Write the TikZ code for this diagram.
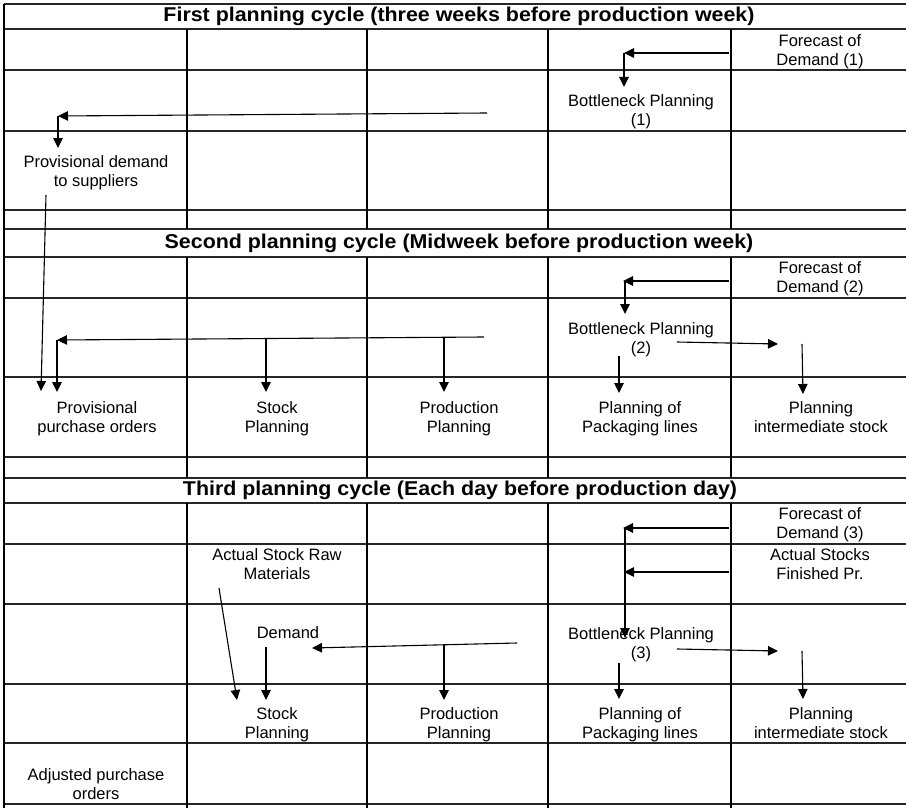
\documentclass[tikz,border=0pt]{standalone}
\usepackage{fontspec}
\usepackage{graphicx}
\setmainfont{Liberation Sans}
\usetikzlibrary{arrows.meta}

% two centred lines of equal height, so that rows of labels line up
\newcommand{\twolines}[2]{\strut#1\\\strut#2}
\newcommand{\widetitle}[1]{\scalebox{1.07}[1]{#1}}

\begin{document}
\begin{tikzpicture}[x=1pt,y=-1pt,
  hline/.style={line width=1.7pt,black!85},
  vline/.style={line width=1.1pt,black},
  label/.style={align=center,inner sep=0pt,yshift=-2pt,font=\fontsize{16.5}{19}\selectfont},
  cycletitle/.style={inner sep=0pt,font=\fontsize{20}{22}\selectfont\bfseries},
  flow/.style={line width=1.1pt,-{Triangle[length=10pt,width=9.5pt]}}]
\useasboundingbox (0,0) rectangle (906,808);

% table rules
\foreach \y in {4,29,70,131,210,229,257,298,377,457,478,503,544,604,684,743,804}
  \draw[hline] (4,\y) -- (906,\y);
\draw[vline] (4,4) -- (4,808);
\foreach \x in {187,367,548,731}{
  \draw[vline] (\x,29) -- (\x,229);
  \draw[vline] (\x,257) -- (\x,478);
  \draw[vline] (\x,503) -- (\x,808);
}

% cycle titles
\node[cycletitle] (c1) at (459,16.5) {\widetitle{First planning cycle (three weeks before production week)}};
\node[cycletitle] (c2) at (459,243) {\widetitle{Second planning cycle (Midweek before production week)}};
\node[cycletitle] (c3) at (460,490.5) {\widetitle{Third planning cycle (Each day before production day)}};

% first cycle
\node[label] (fc1) at (820,50) {\twolines{Forecast of}{Demand (1)}};
\node[label] (bn1) at (641,110) {\twolines{Bottleneck Planning}{(1)}};
\node[label] (pd) at (96,171.5) {\twolines{Provisional demand}{to suppliers}};

% second cycle
\node[label] (fc2) at (820,277) {\twolines{Forecast of}{Demand (2)}};
\node[label] (bn2) at (641,338) {\twolines{Bottleneck Planning}{(2)}};
\node[label] (ppo) at (97,417) {\twolines{Provisional}{purchase orders}};
\node[label] (sp2) at (277,417) {\twolines{Stock}{Planning}};
\node[label] (pp2) at (459,417) {\twolines{Production}{Planning}};
\node[label] (pl2) at (640,417) {\twolines{Planning of}{Packaging lines}};
\node[label] (pi2) at (821,417) {\twolines{Planning}{intermediate stock}};

% third cycle
\node[label] (fc3) at (820,523) {\twolines{Forecast of}{Demand (3)}};
\node[label] (as3) at (820,564) {\twolines{Actual Stocks}{Finished Pr.}};
\node[label] (asr) at (277,564) {\twolines{Actual Stock Raw}{Materials}};
\node[label] (dm) at (288,633) {\strut Demand};
\node[label] (bn3) at (641,643) {\twolines{Bottleneck Planning}{(3)}};
\node[label] (sp3) at (277,723) {\twolines{Stock}{Planning}};
\node[label] (pp3) at (459,723) {\twolines{Production}{Planning}};
\node[label] (pl3) at (640,723) {\twolines{Planning of}{Packaging lines}};
\node[label] (pi3) at (821,723) {\twolines{Planning}{intermediate stock}};
\node[label] (ap) at (96,784) {\twolines{Adjusted purchase}{orders}};

% connector end points, first cycle
\coordinate (f1a) at (729,53);
\coordinate (f1b) at (624,53);
\coordinate (f1c) at (624,87);
\coordinate (b1a) at (487,113);
\coordinate (b1b) at (58,116);
\coordinate (b1c) at (58,148);
\coordinate (pda) at (46,195);
\coordinate (pdb) at (41,391);

% connector end points, second cycle
\coordinate (f2a) at (729,281);
\coordinate (f2b) at (623,281);
\coordinate (f2c) at (625,281);
\coordinate (f2d) at (625,314);
\coordinate (b2a) at (484,337);
\coordinate (b2b) at (57,340);
\coordinate (b2c) at (57,392);
\coordinate (b2s) at (266,338.5);
\coordinate (b2t) at (266,392);
\coordinate (b2p) at (444,337.5);
\coordinate (b2q) at (444,392);
\coordinate (r2a) at (677,342);
\coordinate (r2b) at (778,344);
\coordinate (k2a) at (619,356);
\coordinate (k2b) at (619,393);
\coordinate (i2a) at (802,344);
\coordinate (i2b) at (803,394);

% connector end points, third cycle
\coordinate (f3a) at (729,528);
\coordinate (f3b) at (623,528);
\coordinate (s3a) at (729,572);
\coordinate (s3b) at (624,572);
\coordinate (v3a) at (625,528);
\coordinate (v3b) at (625,638);
\coordinate (r3a) at (677,649);
\coordinate (r3b) at (778,651);
\coordinate (k3a) at (619,663);
\coordinate (k3b) at (619,699);
\coordinate (i3a) at (802,651);
\coordinate (i3b) at (803,699);
\coordinate (d3a) at (517,643);
\coordinate (d3b) at (312,648);
\coordinate (d3p) at (444,644.8);
\coordinate (d3q) at (444,700);
\coordinate (m3a) at (266,647);
\coordinate (m3b) at (266,700);
\coordinate (w3a) at (219,588);
\coordinate (w3b) at (237,700);

% first cycle connectors
\draw[flow] (f1a) -- (f1b);
\draw[flow] (f1b) -- (f1c);
\draw[flow] (b1a) -- (b1b);
\draw[flow] (b1b) -- (b1c);
\draw[flow] (pda) -- (pdb);

% second cycle connectors
\draw[flow] (f2a) -- (f2b);
\draw[flow] (f2c) -- (f2d);
\draw[flow] (b2a) -- (b2b);
\draw[flow] (b2b) -- (b2c);
\draw[flow] (b2s) -- (b2t);
\draw[flow] (b2p) -- (b2q);
\draw[flow] (r2a) -- (r2b);
\draw[flow] (k2a) -- (k2b);
\draw[flow] (i2a) -- (i2b);

% third cycle connectors
\draw[flow] (f3a) -- (f3b);
\draw[flow] (s3a) -- (s3b);
\draw[flow] (v3a) -- (v3b);
\draw[flow] (r3a) -- (r3b);
\draw[flow] (k3a) -- (k3b);
\draw[flow] (i3a) -- (i3b);
\draw[flow] (d3a) -- (d3b);
\draw[flow] (d3p) -- (d3q);
\draw[flow] (m3a) -- (m3b);
\draw[flow] (w3a) -- (w3b);
\end{tikzpicture}
\end{document}
